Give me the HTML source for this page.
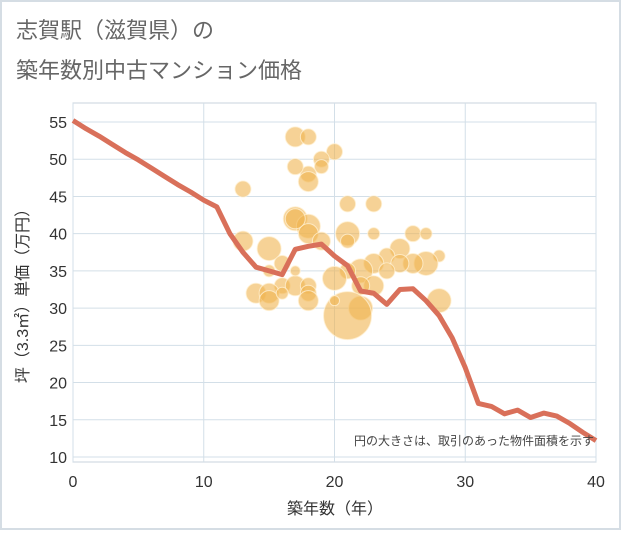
<!DOCTYPE html>
<html><head><meta charset="utf-8"><style>
body{margin:0;background:#fff;}
svg text{font-family:"Liberation Sans","Noto Sans CJK JP",sans-serif;}
</style></head><body>
<svg width="621" height="530">
<rect x="1" y="1" width="619" height="528" fill="#fff" stroke="#d5dde4" stroke-width="2"/>
<text x="16" y="38" font-size="22" fill="#666">志賀駅（滋賀県）の</text>
<text x="16" y="78" font-size="22" fill="#666">築年数別中古マンション価格</text>
<g id="plot"></g>
</svg>
<script>
const lineX=[0,1,2,3,4,5,6,7,8,9,10,11,12,13,14,15,16,17,18,19,20,21,22,23,24,25,26,27,28,29,30,31,32,33,34,35,36,37,38,39,40];
const lineY=[55.2,54.1,53.1,52,50.9,49.9,48.8,47.7,46.6,45.6,44.5,43.6,40,37.5,35.5,35,34.5,37.9,38.3,38.6,37,35.7,32.3,32,30.5,32.5,32.6,31,29,26,22,17.2,16.8,15.8,16.3,15.3,15.9,15.5,14.5,13.3,12.2];
const bubX=[17,18,20,19,19,18,18,17,13,21,23,17,18,17,18,19,21,21,23,26,27,13,15,16,25,24,28,27,26,25,23,22,21,20,24,23,22,15,16,17,18,18,14,15,15,16,18,22,28,21,17,20];
const bubY=[53,53,51,50,49,48,47,49,46,44,44,42,41,42,40,39,40,39,40,40,40,39,38,36,38,37,37,36,36,36,36,35,35,34,35,33,33,35,33,33,33,32,32,32,31,32,31,30,31,29,35,31];
const bubR=[10,8,8,8,7,8,10,8,8,8,8,12,12,10,10,9,12,7,6,8,6,10,12,8,10,8,6,12,10,9,10,12,8,12,8,10,9,6,8,10,8,8,10,10,10,6,10,12,12,24,5,5];
const xTicks=[0,10,20,30,40];
const yTicks=[10,15,20,25,30,35,40,45,50,55];
const L=73,R=596,T=103,B=462;
const sx=v=>L+(v/40)*(R-L);
const sy=v=>457-(v-10)*7.444;
const g=document.getElementById('plot');
const NS='http://www.w3.org/2000/svg';
function mk(t,a,p){const e=document.createElementNS(NS,t);for(const k in a)e.setAttribute(k,a[k]);(p||g).appendChild(e);return e;}
const bg=mk('rect',{x:L,y:T,width:R-L,height:B-T,fill:'#fff',stroke:'#c8d3dc'});


yTicks.forEach(v=>{
 const l=mk('line',{x1:L,x2:R,y1:sy(v),y2:sy(v),stroke:'#d3dfe8'});
 
 
 const t=mk('text',{x:L-6,y:sy(v)+6,'text-anchor':'end','font-size':16,fill:'#333'});t.textContent=v;
 
 
});
xTicks.forEach(v=>{
 const l=mk('line',{x1:sx(v),x2:sx(v),y1:T,y2:B,stroke:'#d3dfe8'});
 
 
 const t=mk('text',{x:sx(v),y:487,'text-anchor':'middle','font-size':16,fill:'#333'});t.textContent=v;
 
 
});
bubX.forEach((v,i)=>{
 const c=mk('circle',{cx:sx(v),cy:sy(bubY[i]),r:bubR[i],fill:'rgba(240,180,80,0.6)',stroke:'rgba(255,240,210,0.8)','stroke-width':1});
 
 
});
const p=mk('polyline',{points:lineX.map((v,i)=>sx(v)+','+sy(lineY[i])).join(' '),fill:'none',stroke:'#d9705a','stroke-width':5,'stroke-linejoin':'round'});


const n=mk('text',{x:594,y:445,'text-anchor':'end','font-size':12,fill:'#444'});n.textContent='円の大きさは、取引のあった物件面積を示す';


const xt=mk('text',{x:335,y:514,'text-anchor':'middle','font-size':16,fill:'#333'});xt.textContent='築年数（年）';


const yt=mk('text',{x:0,y:0,'text-anchor':'middle','font-size':16,fill:'#333',transform:'translate(28,292) rotate(-90)'});yt.textContent='坪（3.3㎡）単価（万円）';


</script>
</body></html>
